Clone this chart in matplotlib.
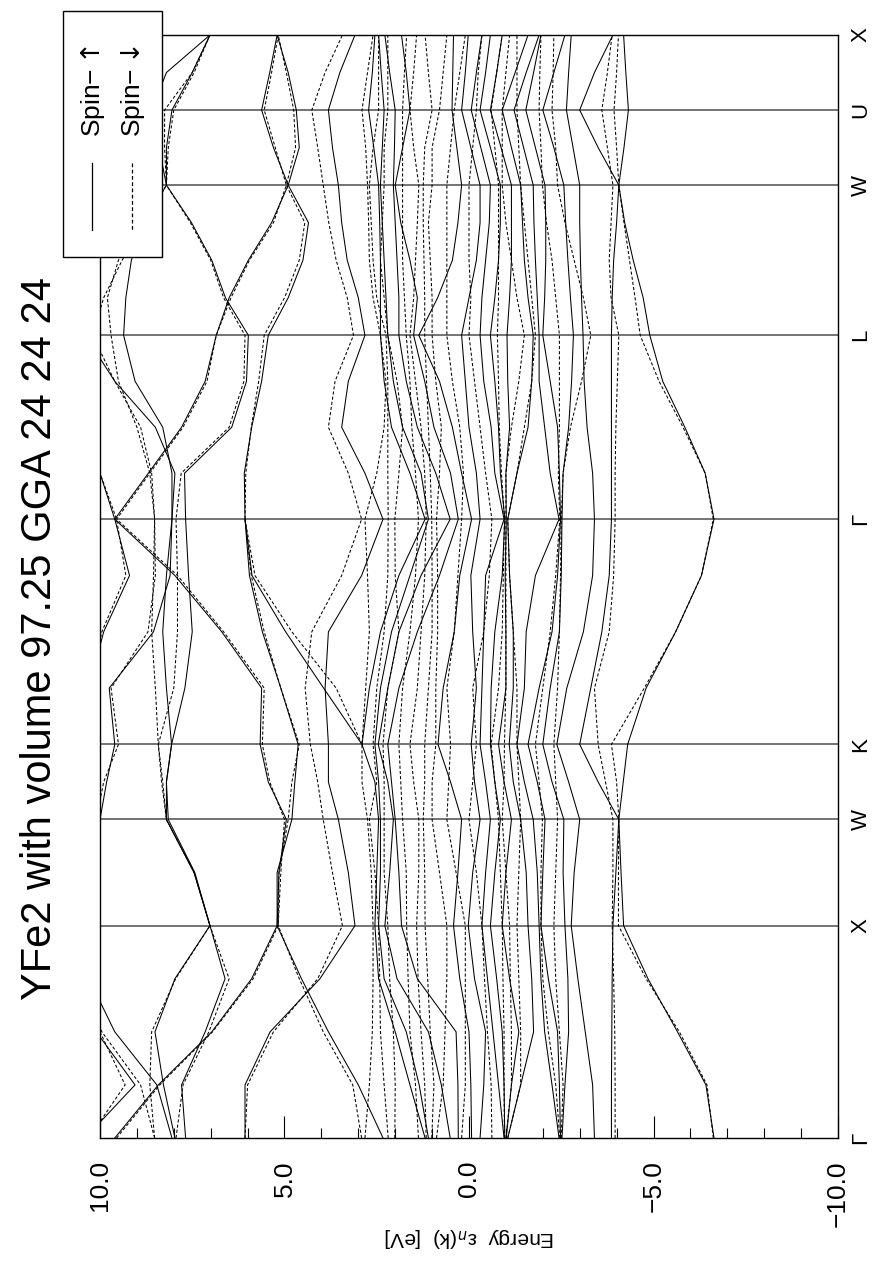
import numpy as np
import matplotlib
matplotlib.use('Agg')
import matplotlib.pyplot as plt
from matplotlib.patches import Rectangle

plt.rcParams['font.family'] = ['Liberation Sans', 'DejaVu Sans']
nan = np.nan

title = 'YFe2 with volume 97.25 GGA 24 24 24'
sym_labels = ['Γ', 'X', 'W', 'K', 'Γ', 'L', 'W', 'U', 'X']
seg_len = [1.0, 0.5, 0.35355, 1.06066, 0.86603, 0.70711, 0.35355, 0.35355]
seg_div = [4, 2, 2, 4, 4, 4, 2, 2]
e_ticks = [10, 5, 0, -5, -10]
e_labels = ['10.0', '5.0', '0.0', '\u22125.0', '\u221210.0']

# ---- lower (d-like) bands, sorted energies in eV at each k sample ----
# spin up (solid)
up_G   = [-6.64,-3.86,-3.40,-2.52,-2.48,-2.44,-1.05,-1.01,-0.97,-0.95,-0.30,-0.07,0.29,0.51,1.10,1.19]
up_GX1 = [-6.42,-3.86,-3.35,-2.60,-2.45,-2.25,-1.40,-1.15,-0.95,-0.80,-0.40,-0.05,0.30,0.75,1.35,1.60]
up_GX2 = [-5.65,-3.87,-3.15,-2.70,-2.40,-2.05,-1.75,-1.35,-0.90,-0.65,-0.45,0.00,0.35,1.10,1.70,2.00]
up_GX3 = [-4.85,-3.88,-2.95,-2.68,-2.15,-1.95,-1.70,-1.10,-0.75,-0.50,-0.15,0.25,1.40,1.95,2.30,2.45]
up_X   = [-4.19,-3.90,-2.77,-2.60,-1.95,-1.90,-1.60,-0.90,-0.58,-0.35,0.02,0.42,1.83,2.28,2.45,2.55]
up_XW  = [-4.12,-3.98,-2.85,-2.55,-2.00,-1.85,-1.55,-1.00,-0.70,-0.45,-0.10,0.30,1.90,2.15,2.40,2.50]
up_W   = [-4.06,-4.06,-3.00,-2.57,-2.06,-1.74,-1.40,-1.15,-0.85,-0.58,-0.30,0.20,2.00,2.05,2.40,2.45]
up_WK  = [-4.18,-3.50,-2.70,-2.25,-1.85,-1.50,-1.20,-0.95,-0.70,-0.45,-0.15,0.50,2.10,2.20,2.45,2.55]
up_K   = [-4.30,-3.00,-2.38,-2.00,-1.60,-1.30,-1.09,-0.80,-0.58,-0.30,-0.06,0.84,2.20,2.46,2.55,2.90]
up_KG1 = [-4.80,-3.30,-2.65,-2.20,-1.90,-1.50,-1.20,-1.00,-0.60,-0.35,-0.20,0.70,1.90,2.20,2.40,2.70]
up_KG2 = [-5.60,-3.60,-3.10,-2.45,-2.25,-1.55,-1.20,-1.00,-0.70,-0.40,-0.10,0.40,1.40,1.90,2.10,2.40]
up_KG3 = [-6.30,-3.80,-3.35,-2.50,-2.40,-1.80,-1.10,-0.98,-0.90,-0.45,-0.05,0.25,0.80,1.30,1.60,1.90]
up_GL1 = [-6.40,-3.86,-3.35,-2.55,-2.45,-2.20,-1.30,-1.00,-0.85,-0.70,-0.20,0.20,0.50,0.90,1.30,1.60]
up_GL2 = [-5.85,-3.86,-3.20,-2.70,-2.40,-2.05,-1.60,-1.10,-0.80,-0.60,0.00,0.45,0.95,1.40,1.80,2.10]
up_GL3 = [-5.25,-3.86,-3.12,-2.78,-2.20,-1.90,-1.70,-1.05,-0.70,-0.40,0.10,0.80,1.20,1.70,2.05,2.30]
up_L   = [-4.90,-3.86,-3.09,-2.83,-2.00,-1.90,-1.74,-1.03,-0.58,-0.30,0.20,1.36,1.50,1.90,2.20,2.40]
up_LW1 = [-4.72,-3.88,-3.05,-2.75,-2.05,-1.85,-1.60,-1.10,-0.70,-0.35,0.00,0.85,1.40,1.90,2.25,2.40]
up_LW2 = [-4.45,-3.92,-3.02,-2.68,-2.08,-1.80,-1.50,-1.15,-0.80,-0.45,-0.20,0.45,1.60,1.95,2.30,2.40]
up_LW3 = [-4.22,-4.00,-3.00,-2.62,-2.08,-1.76,-1.45,-1.15,-0.85,-0.55,-0.30,0.30,1.85,2.00,2.35,2.42]
up_WU  = [-4.20,-3.50,-2.82,-2.30,-1.80,-1.48,-1.15,-0.87,-0.58,-0.32,-0.05,0.33,1.80,2.02,2.35,2.58]
up_U   = [-4.32,-3.00,-2.64,-2.00,-1.54,-1.22,-0.90,-0.58,-0.30,-0.06,0.20,0.46,1.60,2.00,2.30,2.72]
up_UX  = [-4.25,-3.40,-2.70,-2.30,-1.75,-1.55,-1.25,-0.75,-0.45,-0.20,0.10,0.44,1.70,2.15,2.38,2.62]

# spin down (dotted)
dn_G   = [-6.62,-3.96,-2.50,-2.46,-1.05,-1.00,-0.96,-0.62,0.20,0.88,1.01,1.16,1.37,2.01,2.19,2.82]
dn_GX1 = [-6.45,-3.96,-2.55,-2.35,-1.40,-1.15,-0.95,-0.60,0.10,0.70,0.95,1.20,1.45,2.00,2.30,2.70]
dn_GX2 = [-5.70,-3.95,-2.45,-2.15,-1.40,-1.15,-0.95,-0.50,0.10,0.65,1.05,1.30,1.60,2.05,2.40,2.62]
dn_GX3 = [-4.80,-3.92,-2.35,-2.00,-1.35,-1.12,-0.92,-0.42,0.10,0.60,1.12,1.38,1.65,2.15,2.42,2.60]
dn_X   = [-4.05,-3.88,-2.30,-1.95,-1.30,-1.10,-0.90,-0.35,0.10,0.60,1.19,1.42,1.69,2.20,2.45,2.60]
dn_XW  = [-4.05,-3.90,-2.35,-1.95,-1.35,-1.00,-0.85,-0.20,0.35,0.80,1.20,1.36,1.70,2.30,2.55,2.65]
dn_W   = [-4.06,-3.90,-2.40,-1.99,-1.40,-0.90,-0.80,0.00,0.60,1.00,1.24,1.36,1.80,2.30,2.70,2.75]
dn_WK  = [-4.00,-3.70,-2.35,-1.90,-1.35,-0.95,-0.70,-0.10,0.55,1.00,1.20,1.50,1.85,2.30,2.50,2.90]
dn_K   = [-3.86,-3.50,-2.30,-1.80,-1.30,-0.96,-0.60,-0.20,0.50,0.90,1.20,1.60,1.90,2.33,2.60,2.90]
dn_KG1 = [-4.75,-3.40,-2.40,-2.00,-1.30,-1.00,-0.80,-0.10,0.60,0.90,1.10,1.40,1.80,2.20,2.50,2.80]
dn_KG2 = [-5.60,-3.80,-2.45,-2.20,-1.20,-1.00,-0.90,-0.40,0.40,0.85,1.00,1.30,1.60,1.90,2.30,2.70]
dn_KG3 = [-6.30,-3.92,-2.48,-2.35,-1.10,-1.00,-0.93,-0.55,0.30,0.85,1.00,1.20,1.45,2.00,2.20,2.75]
dn_GL1 = [-6.40,-3.96,-2.55,-2.42,-1.30,-1.00,-0.88,-0.45,0.15,0.80,1.05,1.20,1.45,1.90,2.20,2.50]
dn_GL2 = [-5.80,-3.98,-2.75,-2.45,-1.50,-1.15,-0.82,-0.30,0.25,0.75,1.10,1.30,1.55,1.80,2.20,2.30]
dn_GL3 = [-5.15,-4.02,-3.05,-2.45,-1.70,-1.35,-0.80,-0.15,0.45,0.90,1.15,1.45,1.60,1.95,2.20,2.25]
dn_L   = [-4.64,-4.06,-3.30,-2.45,-1.80,-1.50,-0.77,0.00,0.60,1.00,1.20,1.60,1.70,2.20,2.25,2.40]
dn_LW1 = [-4.50,-3.85,-3.10,-2.35,-1.70,-1.30,-0.80,-0.05,0.60,1.00,1.20,1.50,1.75,2.30,2.50,2.60]
dn_LW2 = [-4.35,-3.80,-2.85,-2.25,-1.60,-1.15,-0.80,0.00,0.60,1.05,1.22,1.45,1.80,2.40,2.60,2.70]
dn_LW3 = [-4.20,-3.85,-2.60,-2.10,-1.50,-1.00,-0.80,0.00,0.60,1.10,1.24,1.40,1.80,2.35,2.65,2.72]
dn_WU  = [-4.00,-3.75,-2.35,-1.95,-1.35,-0.90,-0.70,-0.10,0.50,1.00,1.20,1.50,1.80,2.30,2.60,2.80]
dn_U   = [-3.93,-3.60,-2.25,-1.90,-1.30,-0.90,-0.60,-0.20,0.40,0.80,1.00,1.60,1.80,2.20,2.45,2.90]
dn_UX  = [-4.00,-3.75,-2.28,-1.92,-1.30,-1.00,-0.75,-0.25,0.25,0.70,1.10,1.50,1.75,2.20,2.45,2.75]

# ---- upper bands, traced one by one along the whole path ----
#          G    GX1   GX2   GX3   X     XW    W     WK    K     KG1   KG2   KG3   G     GL1   GL2   GL3   L     LW1   LW2   LW3   W     WU    U     UX    X
up_P1 = [9.60, 8.42, 6.97, 5.89, 5.20, 5.15, 4.95, 5.44, 5.66, 5.62, 6.70, 7.97, 9.60, 8.69, 7.79, 7.15, 6.85, 6.50, 5.98, 5.35, 4.90, 5.30, 5.62, 5.40, 5.20]
up_P2 = [7.97, 8.28, 8.51, 7.97, 7.02, 7.43, 8.15, 8.20, 8.06, 8.20, 8.30, 8.20, 8.05, 7.97, 8.50, 9.60, 10.4, 10.6, 10.5, 10.3, 10.0, 10.3, 10.6, 10.8, 11.0]
up_P3 = [7.68, 7.79, 7.15, 6.61, 7.02, 7.45, 8.20, 8.20, 8.06, 7.70, 7.50, 7.60, 7.68, 7.71, 6.43, 6.03, 5.98, 6.60, 6.97, 7.52, 8.20, 8.20, 8.05, 7.50, 7.02]
up_P4 = [8.05, 8.46, 9.60, 10.3, 11.0, 10.8, 10.0, 9.82, 9.60, 9.75, 8.55, 8.10, 8.05, 8.05, 8.30, 9.05, 9.36, 9.30, 9.15, 8.80, 8.20, 8.40, 8.60, 8.20, 7.02]
up_P5 = [10.4, 9.05, 10.1, 10.8, 11.2, 11.0, 10.6, 10.5, 10.6, 10.3, 9.90, 9.20, 9.60, 10.0, 10.5, 10.8, 10.9, 11.0, 11.0, 11.0, 11.0, 11.0, 11.0, 11.2, 11.2]
up_P7 = [6.07, 6.07, 5.39, 4.04, 3.09, 3.27, 3.54, 3.81, 3.81, 3.90, 3.81, 2.91, 2.33, 2.82, 3.45, 3.27, 2.82, 3.00, 3.30, 3.45, 3.54, 3.70, 3.81, 3.50, 3.09]
up_P8 = [2.33, 3.00, 3.81, 4.54, 5.20, 5.20, 4.80, 4.72, 4.63, 5.10, 5.60, 5.95, 6.07, 6.09, 5.89, 5.62, 5.44, 4.90, 4.50, 4.35, 4.90, 4.60, 4.68, 4.90, 5.20]
up_P9 = [nan, nan, nan, nan, nan, nan, nan, nan, 2.90, 3.94, 4.97, 5.88, 6.07, nan, nan, nan, nan, nan, nan, nan, nan, nan, nan, nan, nan]

dn_P1 = [9.55, 8.38, 6.95, 5.85, 5.17, 5.10, 5.00, 5.40, 5.60, 5.55, 6.65, 7.90, 9.55, 8.65, 7.75, 7.10, 6.85, 6.45, 5.95, 5.30, 4.95, 5.25, 5.55, 5.35, 5.17]
dn_P2 = [8.52, 8.65, 8.60, 7.95, 7.02, 7.45, 8.20, 8.33, 8.42, 8.50, 8.60, 8.55, 8.52, 8.60, 8.90, 9.60, 10.2, 9.90, 9.40, 8.80, 8.20, 8.25, 8.25, 7.50, 7.02]
dn_P3 = [7.94, 7.75, 7.05, 6.50, 7.02, 7.45, 8.20, 8.30, 8.42, 8.00, 7.90, 7.90, 7.94, 7.80, 6.50, 6.10, 6.07, 6.65, 7.00, 7.55, 8.20, 8.15, 8.00, 7.45, 7.02]
dn_P4 = [8.52, 8.90, 9.95, 10.5, 11.0, 10.8, 10.1, 9.90, 9.50, 9.70, 8.70, 8.50, 8.52, 8.65, 9.00, 9.50, 9.70, 9.80, 9.50, 9.00, 8.60, 9.20, 10.0, 10.6, 11.0]
dn_P5 = [10.3, 9.32, 10.0, 10.6, 11.2, 11.0, 10.6, 10.5, 10.6, 10.3, 9.95, 9.30, 9.55, 10.0, 10.5, 10.8, 10.9, 11.0, 11.0, 11.0, 11.0, 11.0, 11.0, 11.2, 11.2]
dn_P7 = [6.07, 6.00, 5.30, 4.10, 3.43, 3.70, 3.95, 4.10, 4.30, 4.44, 4.26, 3.45, 2.91, 3.27, 3.81, 3.63, 3.13, 3.30, 3.60, 3.80, 3.95, 4.10, 4.26, 3.90, 3.43]
dn_P8 = [2.91, 3.15, 3.95, 4.60, 5.17, 5.15, 4.90, 4.80, 4.60, 5.10, 5.55, 5.90, 6.07, 6.05, 5.90, 5.70, 5.55, 5.00, 4.60, 4.45, 4.95, 4.70, 4.75, 4.95, 5.17]
dn_P9 = [nan, nan, nan, nan, nan, nan, nan, nan, 2.90, 3.60, 4.80, 5.80, 6.07, nan, nan, nan, nan, nan, nan, nan, nan, nan, nan, nan, nan]

up_rows = [up_G, up_GX1, up_GX2, up_GX3, up_X, up_XW, up_W, up_WK, up_K, up_KG1, up_KG2, up_KG3,
           up_G, up_GL1, up_GL2, up_GL3, up_L, up_LW1, up_LW2, up_LW3, up_W, up_WU, up_U, up_UX, up_X]
dn_rows = [dn_G, dn_GX1, dn_GX2, dn_GX3, dn_X, dn_XW, dn_W, dn_WK, dn_K, dn_KG1, dn_KG2, dn_KG3,
           dn_G, dn_GL1, dn_GL2, dn_GL3, dn_L, dn_LW1, dn_LW2, dn_LW3, dn_W, dn_WU, dn_U, dn_UX, dn_X]
up_upper = [up_P1, up_P2, up_P3, up_P4, up_P5, up_P7, up_P8, up_P9]
dn_upper = [dn_P1, dn_P2, dn_P3, dn_P4, dn_P5, dn_P7, dn_P8, dn_P9]

# k positions along the path
sym_k = np.concatenate([[0], np.cumsum(seg_len)])
kpts = []
for i, n in enumerate(seg_div):
    for j in range(n):
        kpts.append(sym_k[i] + seg_len[i] * j / n)
kpts.append(sym_k[-1])
kpts = np.array(kpts)

W, H = 878, 1278
fig = plt.figure(figsize=(W / 100, H / 100), dpi=100)
ax = fig.add_axes([100 / W, 1 - 1138 / H, 738 / W, 1103 / H])

solid = dict(color='black', lw=0.75)
dotted = dict(color='black', lw=0.75, linestyle=(0, (3, 2)))
for b in list(np.array(up_rows).T) + up_upper:
    ax.plot(b, kpts, **solid)
for b in list(np.array(dn_rows).T) + dn_upper:
    ax.plot(b, kpts, **dotted)

for k in sym_k[1:-1]:
    ax.axhline(k, color='0.3', lw=1.1, zorder=1)

ax.set_xlim(10, -10)
ax.set_ylim(0, sym_k[-1])
ax.set_xticks(e_ticks)
ax.set_xticklabels(e_labels, rotation=90, fontsize=19)
ax.set_xticks(np.arange(-10, 11, 1), minor=True)
ax.tick_params(axis='x', which='major', direction='in', length=16, width=0.8, pad=16)
ax.tick_params(axis='x', which='minor', direction='in', length=7, width=0.8)
ax.yaxis.tick_right()
ax.set_yticks(sym_k)
ax.set_yticklabels(sym_labels, rotation=90, fontsize=16, va='center')
ax.tick_params(axis='y', length=0, pad=9)
for s in ax.spines.values():
    s.set_linewidth(1.0)

# page-level decorations in pixel coordinates
ov = fig.add_axes([0, 0, 1, 1])
ov.set_xlim(0, W)
ov.set_ylim(H, 0)
ov.axis('off')
ov.text(40, 639, title, rotation=90, ha='center', va='center', fontsize=30)
ov.text(470, 1237, 'Energy  ε$_n$(k)  [eV]', rotation=180, ha='center', va='center', fontsize=15)
ov.add_patch(Rectangle((63, 11), 99, 246, facecolor='white', edgecolor='black', lw=1.0))
ov.plot([92, 92], [163, 230], color='black', lw=0.9)
ov.plot([132, 132], [163, 230], color='black', lw=0.9, linestyle=(0, (3, 2)))
ov.text(93, 91, 'Spin\u2212$\\uparrow$', rotation=90, ha='center', va='center', fontsize=19)
ov.text(133, 91, 'Spin\u2212$\\downarrow$', rotation=90, ha='center', va='center', fontsize=19)

fig.savefig('out.png', dpi=100)
